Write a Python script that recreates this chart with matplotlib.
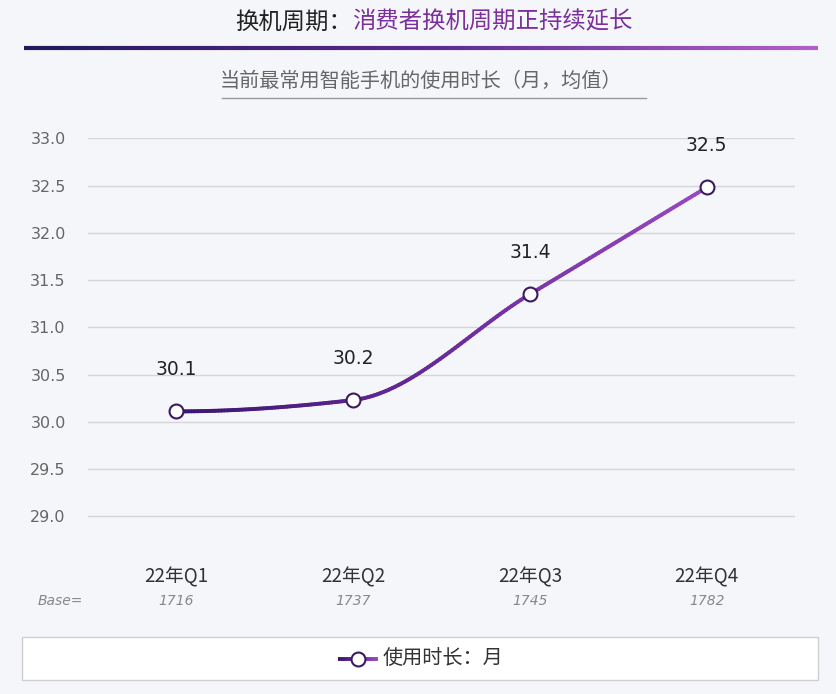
import numpy as np
import matplotlib
matplotlib.use("Agg")
import matplotlib.pyplot as plt
from matplotlib.collections import LineCollection
from matplotlib.colors import LinearSegmentedColormap
from matplotlib.patches import Rectangle
from matplotlib.lines import Line2D

plt.rcParams['font.family'] = ['Noto Sans CJK SC', 'DejaVu Sans']

# data
quarters = ['22年Q1', '22年Q2', '22年Q3', '22年Q4']
months = [30.11, 30.23, 31.35, 32.48]
value_labels = ['30.1', '30.2', '31.4', '32.5']
bases = ['1716', '1737', '1745', '1782']
yticks = [29.0, 29.5, 30.0, 30.5, 31.0, 31.5, 32.0, 32.5, 33.0]

bg = '#f5f6f9'
purple_cmap = LinearSegmentedColormap.from_list('pp', ['#3a1670', '#6a2a9a', '#9a48c0'])

fig = plt.figure(figsize=(8.36, 6.94), dpi=100, facecolor=bg)
ax = fig.add_axes([0.1053, 0.252, 0.8457, 0.5487], facecolor=bg)

x = np.arange(len(months))
y = np.array(months)

# monotone cubic hermite for the smooth line
d = np.diff(y)
m = np.zeros_like(y)
m[-1] = d[-1]
for i in range(1, len(y) - 1):
    if d[i - 1] * d[i] <= 0:
        m[i] = 0
    else:
        m[i] = 2 / (1 / d[i - 1] + 1 / d[i])
m[0] = 0
xs, ys = [], []
for i in range(len(y) - 1):
    t = np.linspace(0, 1, 60)
    h00 = 2 * t**3 - 3 * t**2 + 1
    h10 = t**3 - 2 * t**2 + t
    h01 = -2 * t**3 + 3 * t**2
    h11 = t**3 - t**2
    xs.extend(x[i] + t)
    ys.extend(h00 * y[i] + h10 * m[i] + h01 * y[i + 1] + h11 * m[i + 1])
xs = np.array(xs)
ys = np.array(ys)
pts = np.array([xs, ys]).T.reshape(-1, 1, 2)
segs = np.concatenate([pts[:-1], pts[1:]], axis=1)
lc = LineCollection(segs, cmap=purple_cmap, linewidth=2.8, capstyle='round', zorder=3)
lc.set_array(np.linspace(0, 1, len(segs)))
ax.add_collection(lc)

ax.plot(x, y, 'o', ms=10, mfc='white', mec='#3a1a60', mew=1.5, zorder=4)
for xi, yi, lab in zip(x, y, value_labels):
    ax.text(xi, yi + 0.34, lab, ha='center', va='bottom', fontsize=13.5,
            color='#222222', family='DejaVu Sans')

ax.set_xlim(-0.5, 3.5)
ax.set_ylim(28.97, 33.0)
ax.set_yticks(yticks)
ax.set_yticklabels([f'{v:.1f}' for v in yticks], fontsize=11.5, color='#666666',
                   family='DejaVu Sans')
ax.set_xticks(x)
ax.set_xticklabels(quarters, fontsize=13.5, color='#333333')
ax.tick_params(axis='both', length=0)
ax.tick_params(axis='y', pad=16)
ax.tick_params(axis='x', pad=34)
ax.yaxis.grid(True, color='#d6d6d8', linewidth=1)
ax.set_axisbelow(True)
for s in ax.spines.values():
    s.set_visible(False)

# base row
fig.text(38 / 836, 1 - 601 / 694, 'Base=', fontsize=10, style='italic',
         color='#888888', va='center', family='DejaVu Sans')
for xi, b in zip(x, bases):
    px = (88 + (xi + 0.5) * 176.75) / 836
    fig.text(px, 1 - 601 / 694, b, fontsize=10, style='italic', color='#888888',
             ha='center', va='center', family='DejaVu Sans')

# title
t1 = fig.text(0.0, 1 - 22 / 694, '换机周期：', fontsize=16.8, color='#222222',
              va='center', ha='left')
t2 = fig.text(0.0, 1 - 22 / 694, '消费者换机周期正持续延长', fontsize=16.8,
              color='#7b2f9c', va='center', ha='left')
fig.canvas.draw()
r = fig.canvas.get_renderer()
w1 = t1.get_window_extent(r).width
w2 = t2.get_window_extent(r).width
start = 434 - (w1 + w2) / 2
t1.set_x(start / 836)
t2.set_x((start + w1) / 836)

# gradient rule under title
gx = np.linspace(24, 818, 200)
gpts = np.array([gx / 836, np.full_like(gx, 1 - 48 / 694)]).T.reshape(-1, 1, 2)
gsegs = np.concatenate([gpts[:-1], gpts[1:]], axis=1)
grad = LinearSegmentedColormap.from_list('g', ['#22195a', '#5a2a8a', '#b060c8'])
glc = LineCollection(gsegs, cmap=grad, linewidth=3, transform=fig.transFigure)
glc.set_array(np.linspace(0, 1, len(gsegs)))
fig.add_artist(glc)

# subtitle
fig.text(421 / 836, 1 - 81 / 694, '当前最常用智能手机的使用时长（月，均值）', fontsize=14.5,
         color='#666666', ha='center', va='center')
fig.add_artist(Line2D([222 / 836, 646 / 836], [1 - 98 / 694, 1 - 98 / 694],
                      color='#999999', linewidth=1, transform=fig.transFigure))

# legend box
fig.add_artist(Rectangle((22 / 836, 1 - 680 / 694), 796 / 836, 43 / 694,
                         facecolor='white', edgecolor='#cfcfd2', linewidth=1,
                         transform=fig.transFigure))
lx0, lx1 = 338 / 836, 378 / 836
ly = 1 - 659 / 694
lg = np.linspace(lx0, lx1, 40)
lpts = np.array([lg, np.full_like(lg, ly)]).T.reshape(-1, 1, 2)
lsegs = np.concatenate([lpts[:-1], lpts[1:]], axis=1)
llc = LineCollection(lsegs, cmap=purple_cmap, linewidth=2.8, transform=fig.transFigure)
llc.set_array(np.linspace(0, 1, len(lsegs)))
fig.add_artist(llc)
fig.add_artist(Line2D([(lx0 + lx1) / 2], [ly], marker='o', ms=10, mfc='white',
                      mec='#3a1a60', mew=1.5, transform=fig.transFigure))
fig.text(383 / 836, ly, '使用时长：月', fontsize=14.5, color='#333333', va='center')

fig.savefig('out.png', dpi=100, facecolor=bg)
